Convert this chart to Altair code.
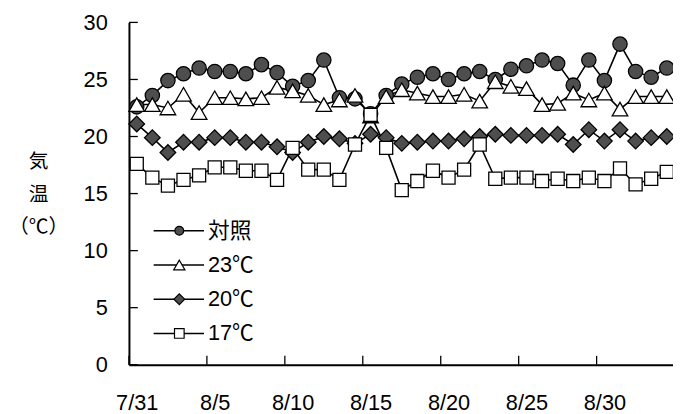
import altair as alt
import pandas as pd

# ---------------- data ----------------
dates = ["7/31", "8/1", "8/2", "8/3", "8/4", "8/5", "8/6", "8/7", "8/8", "8/9",
         "8/10", "8/11", "8/12", "8/13", "8/14", "8/15", "8/16", "8/17", "8/18", "8/19",
         "8/20", "8/21", "8/22", "8/23", "8/24", "8/25", "8/26", "8/27", "8/28", "8/29",
         "8/30", "8/31", "9/1", "9/2", "9/3"]
names = ["対照", "23℃", "20℃", "17℃"]
control = [22.6, 23.6, 24.9, 25.5, 26.0, 25.7, 25.7, 25.5, 26.3, 25.6,
           24.4, 24.9, 26.7, 23.4, 23.3, 22.0, 23.6, 24.6, 25.2, 25.5,
           25.0, 25.5, 25.7, 25.0, 25.9, 26.2, 26.7, 26.4, 24.5, 26.7,
           24.9, 28.1, 25.7, 25.2, 26.0]
t23 = [22.8, 22.8, 22.5, 23.7, 22.1, 23.4, 23.4, 23.3, 23.4, 24.3,
       24.0, 23.6, 22.8, 23.2, 23.6, 21.8, 23.5, 24.1, 23.8, 23.5,
       23.5, 23.7, 23.1, 24.8, 24.4, 24.2, 22.8, 22.9, 23.8, 23.2,
       23.8, 22.4, 23.5, 23.5, 23.5]
t20 = [21.1, 19.9, 18.6, 19.5, 19.5, 19.9, 19.9, 19.5, 19.5, 19.1,
       18.6, 19.5, 20.0, 19.8, 19.4, 20.2, 19.9, 19.4, 19.5, 19.6,
       19.6, 19.8, 20.0, 20.2, 20.1, 20.1, 20.1, 20.2, 19.3, 20.6,
       19.6, 20.6, 19.6, 19.9, 20.0]
t17 = [17.6, 16.4, 15.7, 16.2, 16.6, 17.3, 17.3, 17.0, 17.0, 16.2,
       19.0, 17.1, 17.1, 16.2, 19.3, 21.9, 19.0, 15.3, 16.1, 17.0,
       16.4, 17.1, 19.3, 16.3, 16.4, 16.4, 16.1, 16.3, 16.1, 16.4,
       16.1, 17.2, 15.8, 16.3, 16.9]
y_ticks = [0, 5, 10, 15, 20, 25, 30]
x_labels = ["7/31", "8/5", "8/10", "8/15", "8/20", "8/25", "8/30"]
y_title = ["気", "温", "（℃）"]

# ---------------- styles ----------------
DARK = "#4e4e4e"
shape_of = {"対照": "circle", "23℃": "triangle-up", "20℃": "diamond", "17℃": "square"}
fill_of = {"対照": DARK, "23℃": "white", "20℃": DARK, "17℃": "white"}
size_of = {"対照": 210, "23℃": 250, "20℃": 250, "17℃": 175}
lsize_of = {"対照": 80, "23℃": 130, "20℃": 120, "17℃": 95}

rows = []
for name, vals in zip(names, [control, t23, t20, t17]):
    for i, (d, v) in enumerate(zip(dates, vals)):
        rows.append({"series": name, "day": i, "date": d, "temp": v,
                     "shape": shape_of[name], "fill": fill_of[name],
                     "size": size_of[name]})
df = pd.DataFrame(rows)

label_pos = [dates.index(s) for s in x_labels]
tick_pos = [p - 0.5 for p in label_pos]
label_expr = "{" + ",".join(f"'{p}':'{s}'" for p, s in zip(label_pos, x_labels)) + "}[datum.value]"

W, H = 551, 346.7
FONT = "Liberation Sans, Noto Sans CJK JP"

xscale = alt.Scale(domain=[-0.5, 34.4], nice=False, zero=False)
yscale = alt.Scale(domain=[0, 30], nice=False)

x_enc = alt.X("day:Q", scale=xscale,
              axis=alt.Axis(values=label_pos, labelExpr=label_expr, ticks=False,
                            grid=False, domainColor="black", domainWidth=2,
                            labelFontSize=22, labelFont=FONT, labelColor="black",
                            labelPadding=38, labelBaseline="middle",
                            labelFlush=False, labelOverlap=False, title=None))
y_enc = alt.Y("temp:Q", scale=yscale,
              axis=alt.Axis(values=y_ticks, ticks=False, grid=False,
                            domainColor="black", domainWidth=2,
                            labelFontSize=22, labelFont=FONT, labelColor="black",
                            labelPadding=22, title=y_title, titleAngle=0,
                            titleX=-92, titleY=131, titleAlign="center",
                            titleBaseline="top", titleLineHeight=33,
                            titleFont="Noto Sans CJK JP", titleFontSize=20,
                            titleFontWeight="normal", titleColor="black"))

lines = alt.Chart(df).mark_line(color="black", strokeWidth=1.6).encode(
    x=x_enc, y=y_enc, detail="series:N", order="day:Q")

points = alt.Chart(df).mark_point(filled=True, stroke="black", strokeWidth=1.3,
                                  opacity=1).encode(
    x=alt.X("day:Q", scale=xscale),
    y=alt.Y("temp:Q", scale=yscale),
    shape=alt.Shape("shape:N", scale=None),
    fill=alt.Fill("fill:N", scale=None),
    size=alt.Size("size:Q", scale=None))

ytick_df = pd.DataFrame({"temp": y_ticks})
yticks = alt.Chart(ytick_df).mark_rule(color="black", strokeWidth=1.3).encode(
    y=alt.Y("temp:Q", scale=yscale), x=alt.value(0), x2=alt.value(9))

xtick_df = pd.DataFrame({"day": tick_pos})
xticks = alt.Chart(xtick_df).mark_rule(color="black", strokeWidth=1.3).encode(
    x=alt.X("day:Q", scale=xscale), y=alt.value(H), y2=alt.value(H - 9))

main = alt.layer(lines, points, yticks, xticks)

# ---------------- legend ----------------
leg_df = pd.DataFrame({"series": names, "row": list(range(len(names))),
                       "shape": [shape_of[n] for n in names],
                       "fill": [fill_of[n] for n in names],
                       "lsize": [lsize_of[n] for n in names]})
leg_y = alt.Y("row:Q", scale=alt.Scale(domain=[0, 3], range=[211, 315]), axis=None)
leg_rule = alt.Chart(leg_df).mark_rule(color="black", strokeWidth=1.6).encode(
    y=leg_y, x=alt.value(25), x2=alt.value(76))
leg_pts = alt.Chart(leg_df).mark_point(filled=True, stroke="black", strokeWidth=1.2,
                                       opacity=1).encode(
    y=leg_y, x=alt.value(51),
    shape=alt.Shape("shape:N", scale=None),
    fill=alt.Fill("fill:N", scale=None),
    size=alt.Size("lsize:Q", scale=None))
leg_text = alt.Chart(leg_df).mark_text(align="left", baseline="middle", fontSize=22,
                                       font=FONT, color="black").encode(
    y=leg_y, x=alt.value(80), text="series:N")
legend = alt.layer(leg_rule, leg_pts, leg_text)

chart = alt.layer(main, legend).resolve_scale(y="independent").properties(
    width=W, height=H,
    autosize=alt.AutoSizeParams(type="none"),
    padding={"left": 122.5, "top": 12, "right": 0, "bottom": 48},
    background="white",
).configure_view(strokeWidth=0)

chart.save("out.html", embed_options={"renderer": "svg", "actions": False})
